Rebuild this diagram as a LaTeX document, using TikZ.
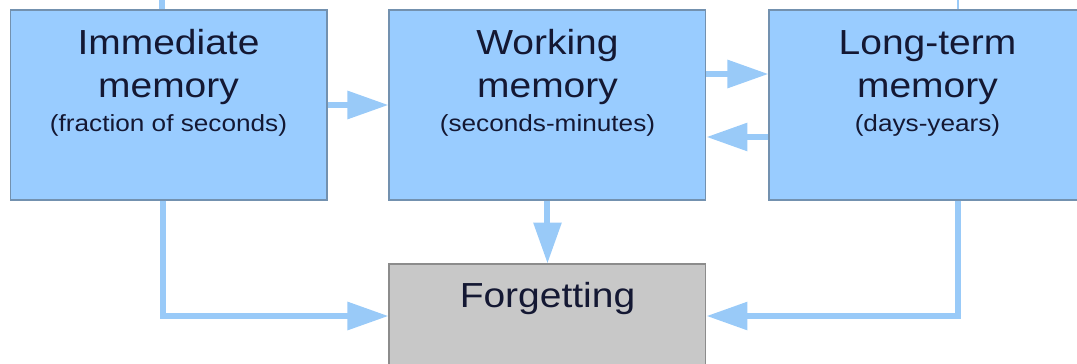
\documentclass[tikz,border=0pt]{standalone}
\usepackage{fontspec}
\setmainfont{Liberation Sans}[FakeStretch=1.12]
\usetikzlibrary{arrows.meta,positioning}
\definecolor{memblue}{HTML}{99CCFF}
\definecolor{memedge}{HTML}{7391AF}
\definecolor{flowblue}{HTML}{99CAF8}
\definecolor{forgetgray}{HTML}{C8C8C8}
\definecolor{forgetedge}{HTML}{8C8C8C}
\definecolor{inkblue}{HTML}{141833}
\tikzset{
  membox/.style    = {rectangle, draw=memedge, line width=0.6pt, fill=memblue,
                      minimum width=6.34cm, minimum height=3.8cm, inner sep=0pt},
  forgetbox/.style = {membox, draw=forgetedge, fill=forgetgray},
  headtext/.style  = {font=\fontsize{19.8}{24.4}\selectfont, text=inkblue,
                      align=center, inner sep=0pt, anchor=base},
  spantext/.style  = {font=\fontsize{13.3}{16}\selectfont, text=inkblue,
                      inner sep=0pt, anchor=base},
  flow/.style      = {-{Triangle[length=0.82cm,width=0.54cm]}, line width=0.12cm,
                      draw=flowblue},
}

\begin{document}
\begin{tikzpicture}[x=0.02cm, y=-0.02cm]
  \useasboundingbox (0,0) rectangle (1077,364);
  \clip (0,0) rectangle (1077,364);

  % ---- the three memory stores and forgetting ----------------------------
  \node[membox] (imm) at (168.5,105) {};
  \node[membox, right=1.22cm of imm] (work) {};
  \node[membox, right=1.24cm of work] (long) {};
  \node[forgetbox, below=1.26cm of work] (forget) {};

  % ---- labels (base = baseline of the last line) ---------------------------
  \node[headtext] (imm-head) at ([yshift=-1.76cm]imm.north) {Immediate\\memory};
  \node[spantext] (imm-span) at ([yshift=-2.44cm]imm.north) {(fraction of seconds)};
  \node[headtext] (work-head) at ([yshift=-1.76cm]work.north) {Working\\memory};
  \node[spantext] (work-span) at ([yshift=-2.44cm]work.north) {(seconds-minutes)};
  \node[headtext] (long-head) at ([yshift=-1.76cm]long.north) {Long-term\\memory};
  \node[spantext] (long-span) at ([yshift=-2.44cm]long.north) {(days-years)};
  \node[headtext] (forget-head) at ([yshift=-0.88cm]forget.north) {Forgetting};

  % ---- flows between the stores -------------------------------------------
  \draw[flow] (imm.east) -- (work.west);
  \draw[flow] ([yshift=0.62cm]work.east) -- ([yshift=0.62cm]long.west);
  \draw[flow] ([yshift=-0.64cm]long.west) -- ([yshift=-0.64cm]work.east);

  % ---- flows into forgetting ----------------------------------------------
  \draw[flow] (work.south) -- (forget.north);
  \draw[flow] ([xshift=-0.11cm]imm.south) |- ([yshift=0.86cm]forget.west);
  \draw[flow] ([xshift=0.62cm]long.south) |- ([yshift=0.86cm]forget.east);

  % ---- stubs of lines coming in from above ---------------------------------
  \draw[flowblue, line width=0.12cm] ([xshift=-0.13cm]imm.north) -- ++(0,-12);
  \draw[flowblue, line width=0.04cm] ([xshift=0.62cm]long.north) -- ++(0,-12);
\end{tikzpicture}
\end{document}
